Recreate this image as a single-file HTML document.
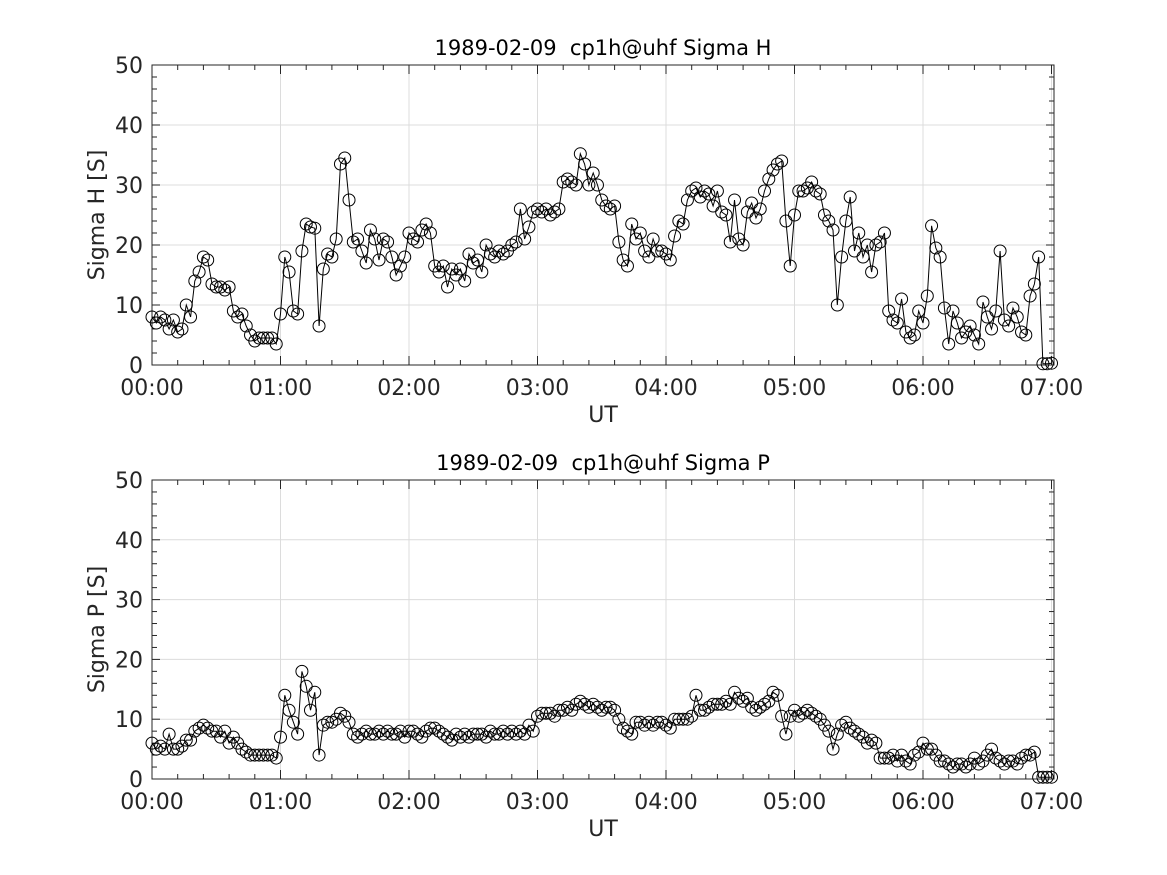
<!DOCTYPE html>
<html><head><meta charset="utf-8"><style>
body{margin:0;background:#fff;}
svg{display:block;font-family:"DejaVu Sans","Liberation Sans",sans-serif;}
</style></head><body>
<svg id="chart" width="1167" height="875" viewBox="0 0 1167 875" xmlns="http://www.w3.org/2000/svg"></svg>
<script>
const xTickLabels=["00:00","01:00","02:00","03:00","04:00","05:00","06:00","07:00"];
const yTickLabels=[0,10,20,30,40,50];
const stepMinutes=2;
const sigmaH=[8,7,8,7.5,6,7.5,5.5,6,10,8,14,15.5,18,17.5,13.5,13,13,12.5,13,9,8,8.5,6.5,5,4,4.5,4.5,4.5,4.5,3.5,
8.5,18,15.5,9,8.5,19,23.5,23,22.8,6.5,16,18.5,18,21,33.5,34.5,27.5,20.5,21,19,17,22.5,21,17.5,21,20.5,18,15,16.5,18,
22,21,20.5,22.5,23.5,22,16.5,15.5,16.5,13,16,15,16,14,18.5,17,17.5,15.5,20,18.5,18,19,18.5,19,20,20.5,26,21,23,25.5,
26,25.5,26,25,25.5,26,30.5,31,30.5,30,35.2,33.5,30,32,30,27.5,26.5,26,26.5,20.5,17.5,16.5,23.5,21,22,19,18,21,19,19,
18.5,17.5,21.5,24,23.5,27.5,29,29.5,28,29,28.5,26.5,29,25.5,25,20.5,27.5,21,20,25.5,27,24.5,26,29,31,32.5,33.5,34,24,16.5,
25,29,29,29.5,30.5,29,28.5,25,24,22.5,10,18,24,28,19,22,18,20,15.5,20,20.5,22,9,7.5,7,11,5.5,4.5,5,9,
7,11.5,23.2,19.5,18,9.5,3.5,9,7,4.5,5.5,6.5,5,3.5,10.5,8,6,9,19,7.5,6.5,9.5,8,5.5,5,11.5,13.5,18,0.2,0.2,0.3];
const sigmaP=[6,5,5.5,5,7.5,5,5,5.5,6.5,6.5,8,8.5,9,8.5,8,8,7,8,6,7,6,5,4.5,4,4,4,4,4,4,3.5,
7,14,11.5,9.5,7.5,18,15.5,11.5,14.5,4,9,9.5,9.5,10,11,10.5,9.5,7.5,7,7.5,8,7.5,7.5,8,7.5,8,7.5,7.5,8,7,
8,8,7.5,7,8,8.5,8.5,8,7.5,7,6.5,7.5,7,7.5,7,7.5,7.5,7.5,7,8,7.5,7.5,8,7.5,8,7.5,8,7.5,9,8,
10.5,11,11,11,10.5,11.5,11.5,12,11.5,12.5,13,12.5,12,12.5,12,11.5,12,12,11.5,10,8.5,8,7.5,9.5,9.5,9,9.5,9,9.5,9.5,
9,8.5,10,10,10,10,10.5,14,11.5,11.5,12,12.5,12.5,12.5,13,12.5,14.5,13.5,13,13.5,12,11.5,12,12.5,13,14.5,14,10.5,7.5,10.5,
11.5,10.5,11,11.5,11,10.5,10,9,8,5,7.5,9,9.5,8.5,8,7.5,7,6,6.5,6,3.5,3.5,3.5,4,3,4,3,2.5,4,4.5,
6,5,5,4,3,3,2.5,2,2.5,2.5,2,2.5,3.5,2.5,3,4,5,3.5,3,2.5,3,3,2.5,3.5,4,4,4.5,0.3,0.3,0.3,0.3];

const NS="http://www.w3.org/2000/svg";
const svg=document.getElementById('chart');
function mk(tag,attrs,parent){const e=document.createElementNS(NS,tag);for(const k in attrs)e.setAttribute(k,attrs[k]);(parent||svg).appendChild(e);return e;}

const X0=152,X1=1054,PXH=128.5;
function xs(min){return X0+min/60*PXH;}

function panel(top,bottom,title,ylabel,vals,key){
  const g=mk('g',{});
  
  
  const ys=v=>bottom-(v/50)*(bottom-top);
  for(let h=0;h<xTickLabels.length;h++){const x=xs(h*60);if(x>X0+1&&x<X1-1)mk('line',{x1:x,y1:top,x2:x,y2:bottom,stroke:'#dcdcdc','stroke-width':1},g);}
  yTickLabels.forEach(v=>{const y=ys(v);if(v>0&&v<50)mk('line',{x1:X0,y1:y,x2:X1,y2:y,stroke:'#dcdcdc','stroke-width':1},g);});
  const fr=mk('rect',{x:X0,y:top,width:X1-X0,height:bottom-top,fill:'none',stroke:'#262626','stroke-width':1},g);
  
  
  for(let v=0;v<=50;v+=2){const y=ys(v);const L=(v%10===0)?8:5;
    mk('line',{x1:X0,y1:y,x2:X0+L,y2:y,stroke:'#262626'},g);mk('line',{x1:X1,y1:y,x2:X1-L,y2:y,stroke:'#262626'},g);}
  for(let m=0;m<=420;m+=12){const x=xs(m);const L=(m%60===0)?9:5;
    mk('line',{x1:x,y1:bottom,x2:x,y2:bottom-L,stroke:'#262626'},g);mk('line',{x1:x,y1:top,x2:x,y2:top+L,stroke:'#262626'},g);}
  yTickLabels.forEach(v=>{const t=mk('text',{x:X0-9,y:ys(v)+8,'text-anchor':'end','font-size':22,fill:'#262626'},g);t.textContent=v;
    
    });
  xTickLabels.forEach((s,i)=>{const t=mk('text',{x:xs(i*60),y:bottom+30,'text-anchor':'middle','font-size':22,fill:'#262626'},g);t.textContent=s;
    
    });
  const tt=mk('text',{x:(X0+X1)/2,y:top-10,'text-anchor':'middle','font-size':21,fill:'#000','xml:space':'preserve',style:'white-space:pre'},g);tt.textContent=title;
  
  
  const xl=mk('text',{x:(X0+X1)/2,y:bottom+57,'text-anchor':'middle','font-size':22,fill:'#262626'},g);xl.textContent='UT';
  
  
  const yl=mk('text',{x:0,y:0,'text-anchor':'middle','font-size':22,fill:'#262626',transform:`translate(104,${(top+bottom)/2}) rotate(-90)`},g);yl.textContent=ylabel;
  
  
  const pts=vals.map((v,i)=>xs(i*stepMinutes).toFixed(1)+','+ys(v).toFixed(1)).join(' ');
  const pl=mk('polyline',{points:pts,fill:'none',stroke:'#000','stroke-width':1},g);
  
  
  vals.forEach((v,i)=>{const c=mk('circle',{cx:xs(i*stepMinutes),cy:ys(v),r:6,fill:'none',stroke:'#000','stroke-width':1},g);
    
    });
}
panel(65,365,'1989-02-09  cp1h@uhf Sigma H','Sigma H [S]',sigmaH,'sigma-h');
panel(480,779,'1989-02-09  cp1h@uhf Sigma P','Sigma P [S]',sigmaP,'sigma-p');
</script>
</body></html>
